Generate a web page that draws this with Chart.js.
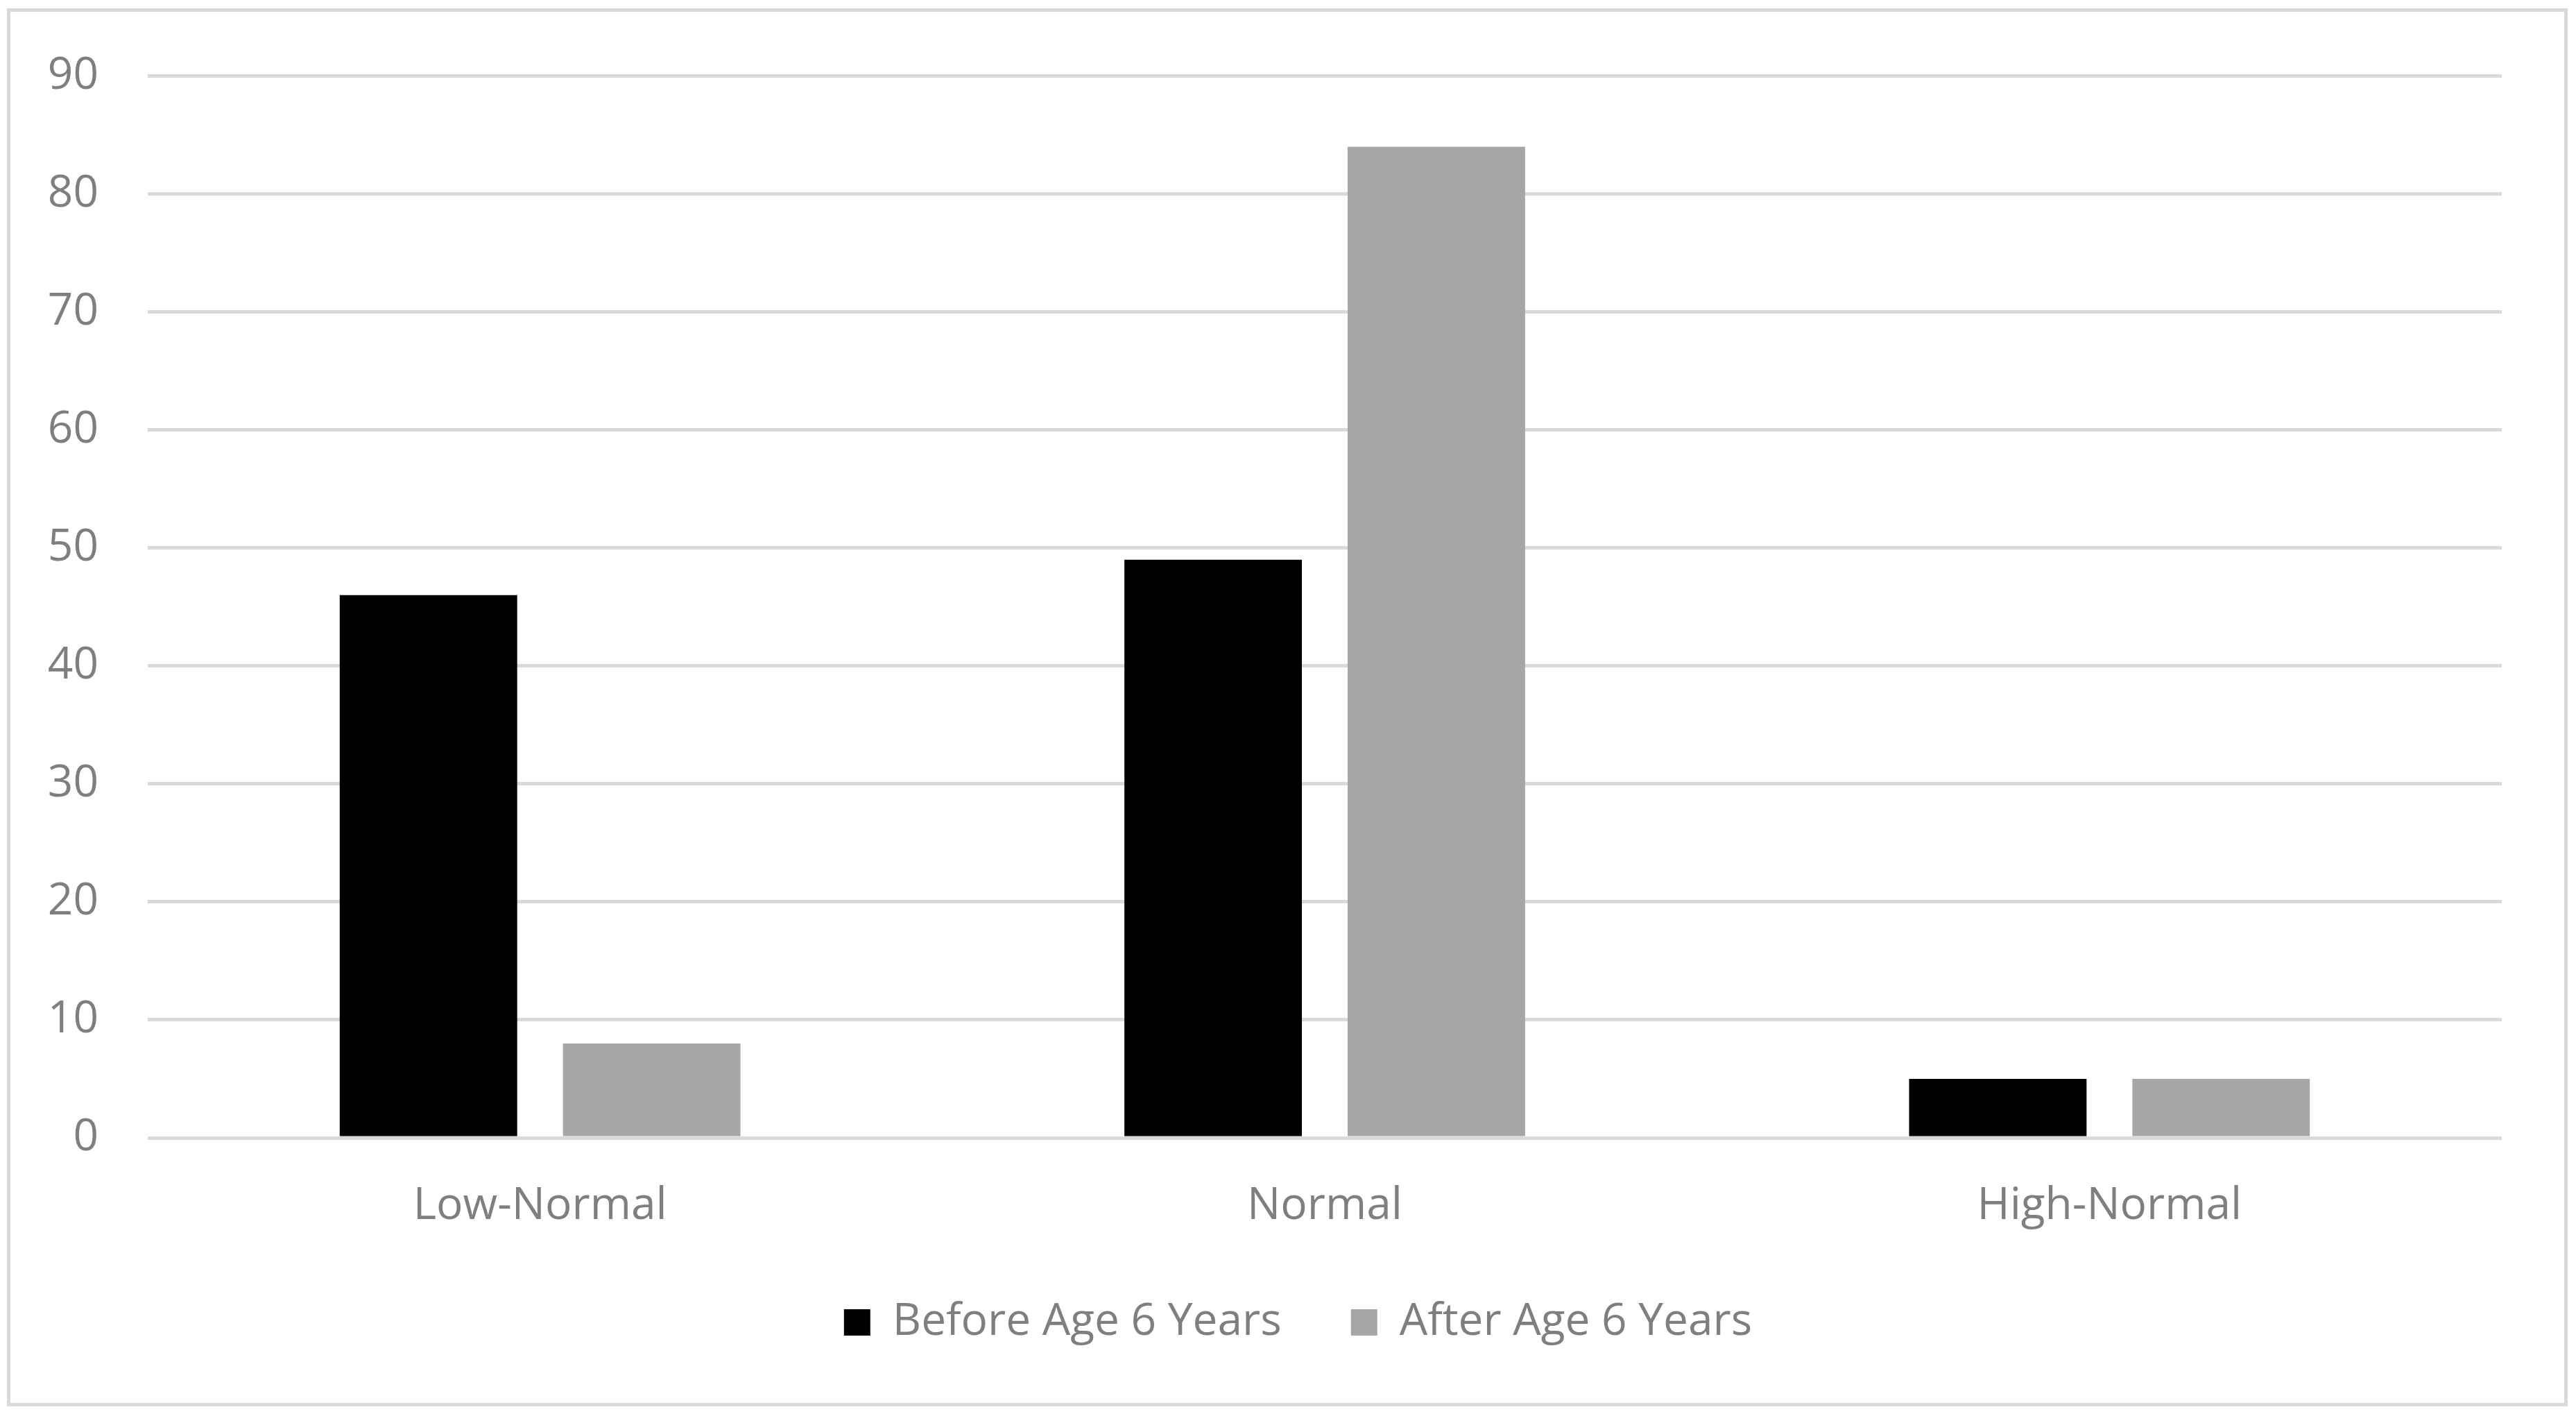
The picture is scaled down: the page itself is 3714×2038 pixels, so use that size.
<!DOCTYPE html>
<html>
<head>
<meta charset="utf-8">
<script src="https://cdn.jsdelivr.net/npm/chart.js@4"></script>
<style>
  html, body { margin: 0; padding: 0; background: #fff; }
  #wrap { position: relative; width: 3714px; height: 2038px; }
  #frame {
    position: absolute; left: 10px; top: 12px; width: 3692px; height: 2015px;
    border: 5px solid #d9d9d9; box-sizing: border-box; pointer-events: none;
  }
  canvas { position: absolute; left: 0; top: 0; }
</style>
</head>
<body>
<div id="wrap">
  <canvas id="chart" width="3714" height="2038"></canvas>
  <div id="frame"></div>
</div>
<script>
const categories = ['Low-Normal', 'Normal', 'High-Normal'];
const beforeAge6 = [46, 49, 5];
const afterAge6 = [8, 84, 5];
const seriesNames = ['Before Age 6 Years', 'After Age 6 Years'];
const yTicks = { min: 0, max: 90, step: 10 };

const textColor = '#7f7f7f';
const gridColor = '#d9d9d9';
const fontFamily = '"Open Sans", "Noto Sans", sans-serif';

Chart.defaults.font.family = fontFamily;
Chart.defaults.color = textColor;

// nudge the legend right so it sits where the original has it
const legendShift = {
  id: 'legendShift',
  afterLayout(chart) {
    if (!chart.legend) return;
    chart.legend.left += 68;
    chart.legend.right += 68;
  }
};

const ctx = document.getElementById('chart').getContext('2d');

new Chart(ctx, {
  type: 'bar',
  data: {
    labels: categories,
    datasets: [
      { label: seriesNames[0], data: beforeAge6, backgroundColor: '#000000' },
      { label: seriesNames[1], data: afterAge6, backgroundColor: '#a6a6a6' }
    ]
  },
  options: {
    responsive: false,
    animation: false,
    devicePixelRatio: 1,
    categoryPercentage: 0.569,
    barPercentage: 0.795,
    layout: { padding: { left: 0, right: 107, top: 109, bottom: 90 } },
    plugins: {
      tooltip: { enabled: false },
      legend: {
        position: 'bottom',
        labels: {
          font: { size: 64 },
          color: textColor,
          boxWidth: 38,
          boxHeight: 38,
          padding: 100
        }
      }
    },
    scales: {
      x: {
        grid: { display: false },
        border: { display: false },
        ticks: { font: { size: 64 }, color: textColor, padding: 52 },
        afterFit: scale => { scale.height = 134; }
      },
      y: {
        min: yTicks.min,
        max: yTicks.max,
        grid: { color: gridColor, lineWidth: 5, drawTicks: false },
        border: { display: false },
        ticks: { stepSize: yTicks.step, font: { size: 64 }, color: textColor, padding: 71 },
        afterFit: scale => { scale.width = 213; }
      }
    }
  },
  plugins: [legendShift]
});
</script>
</body>
</html>
